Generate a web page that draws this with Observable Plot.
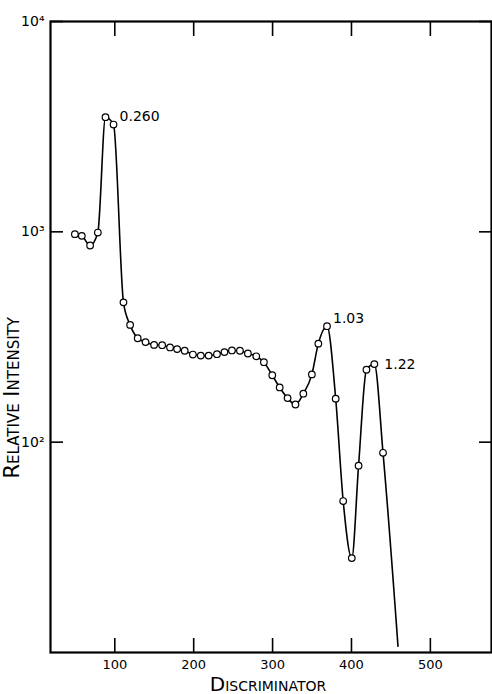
<!DOCTYPE html>
<html><head><meta charset="utf-8">
<script src="https://cdn.jsdelivr.net/npm/d3@7"></script>
<script src="https://cdn.jsdelivr.net/npm/@observablehq/plot@0.6"></script>
<style>html,body{margin:0;padding:0;background:#fff;}</style>
</head><body><div id="chart"></div>
<script>
const discriminator = [49.4, 58.2, 68.7, 78.5, 88.2, 98.4, 111, 119.4, 129, 139, 149.8, 160, 170, 179, 188.6, 199, 209, 219, 229.5, 239, 248.5, 258.6, 268.7, 279.3, 289, 299.6, 309, 319, 329, 339, 349.8, 358, 369, 380, 389.5, 400.4, 409, 419, 429, 440];
const intensity = [975, 957, 861, 992, 3508, 3237, 462, 361, 312, 299, 290, 289, 282, 277, 272, 261, 258, 258, 262, 268, 273, 272, 264, 256, 240, 208, 182, 162, 151, 170, 210, 294, 356, 161, 52.5, 28.1, 77.3, 221, 235, 89];
// where the drawn curve leaves the frame (no marker)
const curveEndX = [459];
const curveEndY = [10.7];

const xTicks = [100, 200, 300, 400, 500];
const yTicks = [100, 1000, 10000];
const yTickLabels = ["10\u00B2", "10\u00B3", "10\u2074"];

const peakLabels = ["0.260", "1.03", "1.22"];
const peakX = [98.4, 369, 429];
const peakY = [3237, 356, 235];

const xTitle = "Discriminator";
const yTitle = "Relative Intensity";

const points = discriminator.map((x, i) => ({x, y: intensity[i]}));
const curve = points.concat(curveEndX.map((x, i) => ({x, y: curveEndY[i]})));
const peaks = peakLabels.map((t, i) => ({t, x: peakX[i], y: peakY[i]}));

const plot = Plot.plot({
  width: 492,
  height: 694,
  marginLeft: 50,
  marginRight: 1,
  marginTop: 21,
  marginBottom: 42,
  style: {fontFamily: "DejaVu Sans", fontSize: "14px", color: "#000", background: "#fff"},
  x: {domain: [18.5, 577.5], label: null},
  y: {type: "log", domain: [10, 10000], label: null},
  marks: [
    Plot.axisX({ticks: xTicks, anchor: "bottom", tickSize: -14, tickPadding: 21, label: null, fontSize: 13, strokeWidth: 1.6, tickFormat: d => String(d)}),
    Plot.axisX({ticks: xTicks, anchor: "top", tickSize: -14, label: null, strokeWidth: 1.6, tickFormat: () => ""}),
    Plot.axisY({ticks: yTicks, anchor: "left", tickSize: -13, tickPadding: 19, label: null, fontSize: 14, strokeWidth: 1.6, tickFormat: d => yTickLabels[yTicks.indexOf(d)]}),
    Plot.axisY({ticks: yTicks, anchor: "right", tickSize: -13, label: null, strokeWidth: 1.6, tickFormat: () => ""}),
    Plot.frame({stroke: "#000", strokeWidth: 2.2}),
    Plot.line(curve, {x: "x", y: "y", curve: "monotone-x", stroke: "#000", strokeWidth: 1.6}),
    Plot.dot(points, {x: "x", y: "y", r: 3.3, fill: "#fff", stroke: "#000", strokeWidth: 1.2}),
    Plot.text(peaks.slice(0, 2), {x: "x", y: "y", text: "t", textAnchor: "start", dx: 6, dy: -8, fontSize: 14}),
    Plot.text(peaks.slice(2), {x: "x", y: "y", text: "t", textAnchor: "start", dx: 10, dy: 0, fontSize: 14}),
    Plot.text([xTitle], {text: d => d, frameAnchor: "bottom", dx: -3, dy: 38, fontSize: 20, fontVariant: "small-caps"}),
    Plot.text([yTitle], {text: d => d, frameAnchor: "bottom-left", textAnchor: "start", dx: -32, dy: -174, rotate: -90, fontSize: 21, fontVariant: "small-caps"})
  ]
});
document.getElementById("chart").appendChild(plot);
</script>
</body></html>
